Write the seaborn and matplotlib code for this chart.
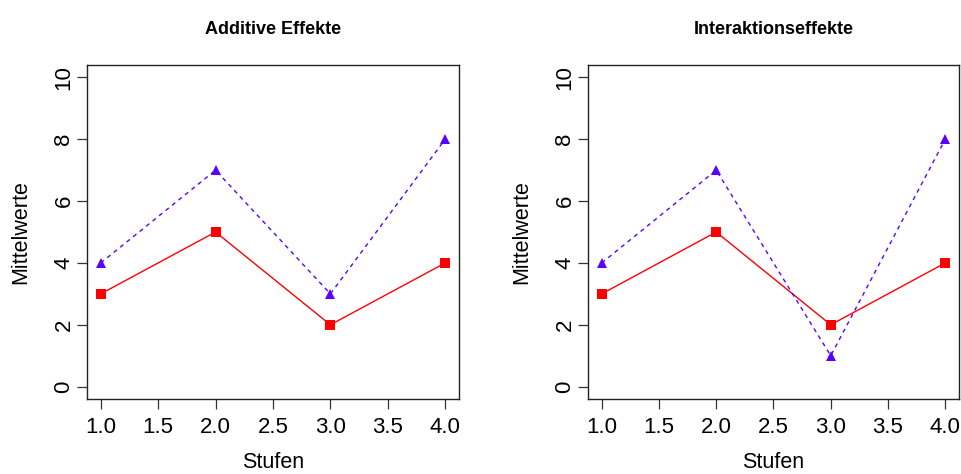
import matplotlib
matplotlib.use("Agg")
import matplotlib.pyplot as plt
import seaborn as sns
import pandas as pd

stufen = [1, 2, 3, 4]
titles = ["Additive Effekte", "Interaktionseffekte"]
gruppe_a_additiv = [3, 5, 2, 4]
gruppe_b_additiv = [4, 7, 3, 8]
gruppe_a_interaktion = [3, 5, 2, 4]
gruppe_b_interaktion = [4, 7, 1, 8]
x_ticks = [1.0, 1.5, 2.0, 2.5, 3.0, 3.5, 4.0]
y_ticks = [0, 2, 4, 6, 8, 10]

sns.set_style("white")
plt.rcParams["font.family"] = ["Liberation Sans", "DejaVu Sans"]
plt.rcParams["text.color"] = "black"
plt.rcParams["axes.labelcolor"] = "black"
plt.rcParams["xtick.color"] = "black"
plt.rcParams["ytick.color"] = "black"

RED = "#FF0000"
PURPLE = "#5A00FF"

fig = plt.figure(figsize=(9.62, 4.74), dpi=100)
positions = [[0.0904, 0.1582, 0.3867, 0.7046], [0.6112, 0.1582, 0.3857, 0.7046]]
panels = [(gruppe_a_additiv, gruppe_b_additiv), (gruppe_a_interaktion, gruppe_b_interaktion)]

for pos, title, (a, b) in zip(positions, titles, panels):
    ax = fig.add_axes(pos)
    df = pd.DataFrame({
        "Stufen": stufen * 2,
        "Mittelwerte": a + b,
        "Gruppe": ["A"] * len(a) + ["B"] * len(b),
    })
    sns.lineplot(data=df, x="Stufen", y="Mittelwerte", hue="Gruppe", style="Gruppe",
                 palette={"A": RED, "B": PURPLE},
                 markers={"A": "s", "B": "^"},
                 dashes={"A": "", "B": (3, 3)},
                 markersize=7, markeredgewidth=0, linewidth=1.0,
                 legend=False, ax=ax)
    ax.set_xlim(0.88, 4.12)
    ax.set_ylim(-0.4, 10.4)
    ax.set_xticks(x_ticks)
    ax.set_xticklabels([f"{t:.1f}" for t in x_ticks])
    ax.set_yticks(y_ticks)
    ax.set_yticklabels([str(t) for t in y_ticks], rotation=90, va="center")
    ax.tick_params(axis="both", direction="out", length=7, width=0.9, color="#333333",
                   labelsize=16, labelcolor="black", bottom=True, left=True)
    ax.tick_params(axis="x", pad=6)
    ax.tick_params(axis="y", pad=2)
    for s in ax.spines.values():
        s.set_color("#222222")
        s.set_linewidth(1.0)
    ax.set_title(title, fontsize=13, fontweight="bold", pad=22, color="black")
    ax.set_xlabel("Stufen", fontsize=15.5, labelpad=10)
    ax.set_ylabel("Mittelwerte", fontsize=15.5, labelpad=16)

fig.savefig("out.png", dpi=100)
